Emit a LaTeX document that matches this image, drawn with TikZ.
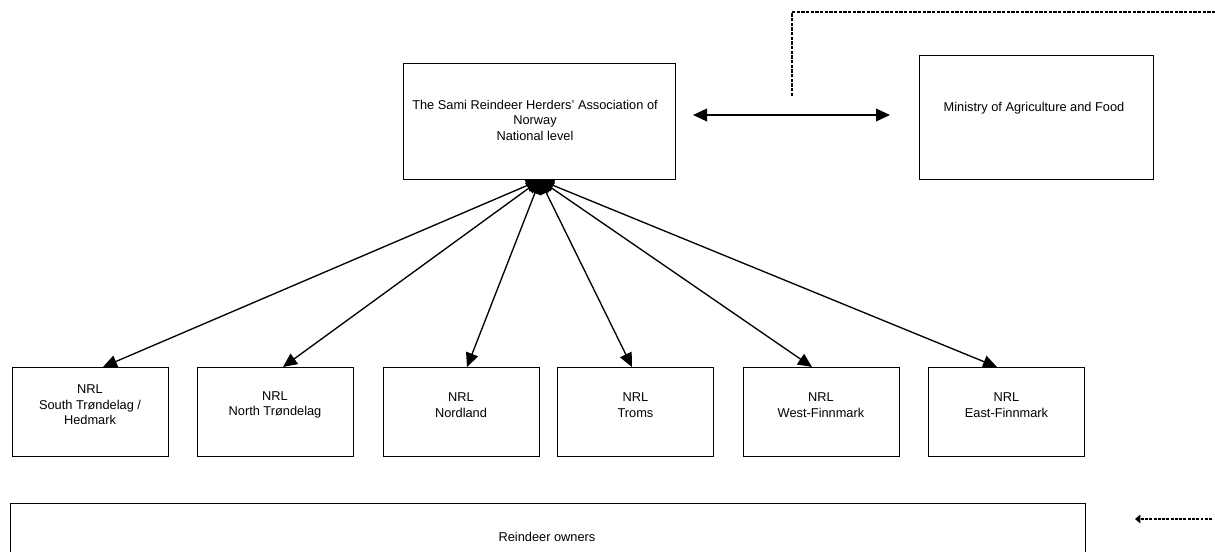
\documentclass[tikz,border=0pt]{standalone}
\usepackage{fontspec}
\setmainfont{Liberation Sans}
\usetikzlibrary{arrows.meta}
\begin{document}
\begin{tikzpicture}[x=0.75pt,y=-0.75pt,
  box/.style={draw, line width=0.6pt, inner sep=0pt},
  txt/.style={align=center, font=\fontsize{9.6}{11.6}\selectfont, inner sep=0pt},
  link/.style={line width=1pt, {Triangle[length=10.5pt,width=9.5pt]}-{Triangle[length=10.5pt,width=9.5pt]}},
  dash link/.style={line width=0.8pt, dash pattern=on 2.5pt off 1pt}
]
\useasboundingbox (0,0) rectangle (1215,551);
\node[box, minimum width=272*0.75pt, minimum height=116*0.75pt] (main) at (539,121) {};
\node[txt] (maint) at (535,120) {The Sami Reindeer Herders’ Association of\\Norway\\National level};
\node[box, minimum width=234*0.75pt, minimum height=124*0.75pt] (min) at (1036,117) {};
\node[txt] (mint) at (1034,108) {Ministry of Agriculture and Food};
\coordinate (ml) at (693,115);
\coordinate (mr) at (890,115);
\draw[link] (ml) -- (mr);
\coordinate (d0) at (792,96);
\coordinate (d1) at (792,12);
\coordinate (d2) at (1215,12);
\draw[dash link] (d0) -- (d1) -- (d2);

\foreach \n/\x/\ty/\t in {a/90/405/{NRL\\South Trøndelag /\\Hedmark},
  b/275/405/{NRL\\North Trøndelag},
  c/461/405/{NRL\\Nordland},
  d/635.5/405/{NRL\\Troms},
  e/821/405/{NRL\\West-Finnmark},
  f/1006.5/405/{NRL\\East-Finnmark}}{
  \node[box, minimum width=156*0.75pt, minimum height=89*0.75pt] (\n) at (\x,411.5) {};
  \node[txt] (\n t) at (\x,\ty) {\t};
}
\coordinate (src) at (540,180);
\coordinate (ta) at (103,367);
\coordinate (tb) at (283,367);
\coordinate (tc) at (467,367);
\coordinate (td) at (632,367);
\coordinate (te) at (812,367);
\coordinate (tf) at (997,367);
\foreach \t in {ta,tb,tc,td,te,tf}{
  \draw[link] (src) -- (\t);
}
\node[box, minimum width=1075*0.75pt, minimum height=80*0.75pt, anchor=north west] (own) at (10,503) {};
\node[txt] (ownt) at (547,537) {Reindeer owners};
\coordinate (b0) at (1212,519);
\coordinate (b1) at (1135,519);
\draw[line width=0.8pt, dash pattern=on 2.2pt off 1pt, -{Triangle[length=4pt,width=6.5pt]}] (b0) -- (b1);
\end{tikzpicture}
\end{document}
